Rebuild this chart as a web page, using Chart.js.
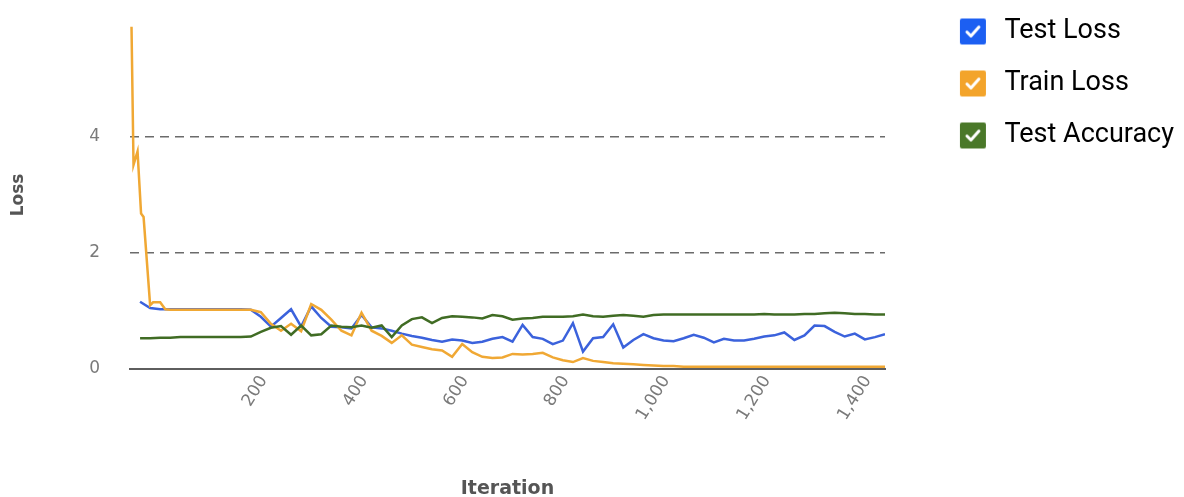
<!DOCTYPE html>
<html>
<head>
<meta charset="utf-8">
<script src="https://cdn.jsdelivr.net/npm/chart.js@4.4.0/dist/chart.umd.min.js"></script>
<style>
  html, body { margin: 0; padding: 0; background: #fff; }
  #wrap { width: 1184px; height: 497px; }
</style>
</head>
<body>
<div id="wrap"><canvas id="grafico"></canvas></div>
<script>
// Iterações em que o teste foi avaliado (a cada 20)
const testIter = [
  20, 40, 60, 80, 100, 120, 140, 160, 180, 200,
  220, 240, 260, 280, 300, 320, 340, 360, 380, 400,
  420, 440, 460, 480, 500, 520, 540, 560, 580, 600,
  620, 640, 660, 680, 700, 720, 740, 760, 780, 800,
  820, 840, 860, 880, 900, 920, 940, 960, 980, 1000,
  1020, 1040, 1060, 1080, 1100, 1120, 1140, 1160, 1180, 1200,
  1220, 1240, 1260, 1280, 1300, 1320, 1340, 1360, 1380, 1400,
  1420, 1440, 1460, 1480, 1500
];

const testLoss = [
  1.16, 1.05, 1.03, 1.03, 1.03, 1.03, 1.03, 1.03, 1.03, 1.03,
  1.03, 1.02, 0.90, 0.73, 0.88, 1.03, 0.73, 1.08, 0.88, 0.73,
  0.72, 0.70, 0.93, 0.72, 0.70, 0.66, 0.61, 0.57, 0.54, 0.50,
  0.47, 0.51, 0.49, 0.45, 0.47, 0.52, 0.55, 0.47, 0.76, 0.55,
  0.52, 0.43, 0.49, 0.79, 0.30, 0.53, 0.55, 0.77, 0.37, 0.50,
  0.60, 0.53, 0.49, 0.48, 0.53, 0.59, 0.54, 0.46, 0.52, 0.49,
  0.49, 0.52, 0.56, 0.58, 0.63, 0.50, 0.58, 0.75, 0.74, 0.64,
  0.56, 0.61, 0.51, 0.55, 0.60
];

const testAccuracy = [
  0.53, 0.53, 0.54, 0.54, 0.55, 0.55, 0.55, 0.55, 0.55, 0.55,
  0.55, 0.56, 0.64, 0.71, 0.74, 0.59, 0.75, 0.58, 0.60, 0.75,
  0.73, 0.72, 0.75, 0.71, 0.75, 0.55, 0.75, 0.86, 0.89, 0.79,
  0.88, 0.91, 0.90, 0.89, 0.87, 0.93, 0.91, 0.85, 0.87, 0.88,
  0.90, 0.90, 0.90, 0.91, 0.94, 0.91, 0.90, 0.92, 0.93, 0.92,
  0.90, 0.93, 0.94, 0.94, 0.94, 0.94, 0.94, 0.94, 0.94, 0.94,
  0.94, 0.94, 0.95, 0.94, 0.94, 0.94, 0.95, 0.95, 0.96, 0.97,
  0.96, 0.95, 0.95, 0.94, 0.94
];

// Treino: alguns pontos extras no início, depois as mesmas iterações do teste
const trainIter = [3, 7, 15, 22, 27, 40, 46, 60, 70].concat(testIter.slice(3));

const trainLoss = [
  5.90, 3.52, 3.75, 2.68, 2.62, 1.10, 1.15, 1.15, 1.03,
  1.02, 1.02, 1.02, 1.02, 1.02, 1.02, 1.02, 1.02, 1.02,
  0.98, 0.78, 0.66, 0.78, 0.65, 1.12, 1.02, 0.85,
  0.66, 0.58, 0.97, 0.66, 0.57, 0.45, 0.58, 0.42, 0.38, 0.34,
  0.32, 0.21, 0.43, 0.29, 0.21, 0.19, 0.20, 0.26, 0.25, 0.26,
  0.28, 0.20, 0.15, 0.12, 0.19, 0.14, 0.12, 0.10, 0.09, 0.08,
  0.07, 0.06, 0.05, 0.05, 0.04,
  0.04, 0.04, 0.04, 0.04, 0.04, 0.04, 0.04, 0.04, 0.04, 0.04,
  0.04, 0.04, 0.04, 0.04, 0.04, 0.04, 0.04, 0.04, 0.04, 0.04
];

const seriesNames = ["Test Loss", "Train Loss", "Test Accuracy"];
const lineColors = ["#3b62dc", "#f0a834", "#406c24"];
const boxColors = ["#1c5ff2", "#f3a42b", "#4a7829"];

const yTicks = [0, 2, 4];

// monta pares {x, y}
function pares(xs, ys) {
  return ys.map((v, i) => ({ x: xs[i], y: v }));
}

// caixinha marcada para a legenda
function caixaMarcada(cor) {
  const c = document.createElement("canvas");
  c.width = 28;
  c.height = 28;
  const g = c.getContext("2d");
  g.fillStyle = cor;
  g.beginPath();
  g.roundRect(1, 1, 26, 26, 2);
  g.fill();
  g.strokeStyle = "#fff";
  g.lineWidth = 3;
  g.lineCap = "round";
  g.lineJoin = "round";
  g.beginPath();
  g.moveTo(8, 14.5);
  g.lineTo(12, 18.5);
  g.lineTo(20, 9.5);
  g.stroke();
  return c;
}
const caixas = boxColors.map(caixaMarcada);

const dados = [pares(testIter, testLoss), pares(trainIter, trainLoss), pares(testIter, testAccuracy)];

new Chart(document.getElementById("grafico"), {
  type: "line",
  data: {
    datasets: dados.map((d, i) => ({
      label: seriesNames[i],
      data: d,
      borderColor: lineColors[i],
      backgroundColor: lineColors[i],
      borderWidth: 2.5,
      pointRadius: 0,
      tension: 0,
      order: 2 - i
    }))
  },
  options: {
    responsive: true,
    maintainAspectRatio: false,
    animation: false,
    layout: { padding: { top: -7, left: 0, right: 0, bottom: 0 } },
    plugins: {
      tooltip: { enabled: false },
      legend: {
        position: "right",
        align: "start",
        maxWidth: 320,
        labels: {
          usePointStyle: true,
          pointStyleWidth: 36,
          padding: 25,
          color: "#3a3a3a",
          font: { family: "Roboto", size: 27 },
          generateLabels: chart => chart.data.datasets.map((ds, i) => ({
            text: ds.label,
            pointStyle: caixas[i],
            fillStyle: boxColors[i],
            strokeStyle: "rgba(0,0,0,0)",
            lineWidth: 0,
            hidden: false,
            datasetIndex: i
          }))
        }
      }
    },
    scales: {
      x: {
        type: "linear",
        min: 0,
        max: 1500,
        grid: { display: false, drawTicks: false },
        border: { display: true, color: "#5e5e5e", width: 2 },
        ticks: {
          stepSize: 200,
          includeBounds: false,
          autoSkip: false,
          minRotation: 58,
          maxRotation: 58,
          padding: 3,
          labelOffset: 33,
          color: "#7a7a7a",
          font: { family: "DejaVu Sans", size: 17 },
          callback: v => v === 0 ? "" : v.toLocaleString("en-US")
        },
        title: {
          display: true,
          text: "Iteration",
          color: "#555",
          font: { family: "DejaVu Sans", size: 19, weight: "bold" },
          padding: { top: 0, bottom: -3 }
        },
        afterFit: s => {
          s.height = 128;
          s.paddingLeft = 0;
          s.paddingRight = 0;
        }
      },
      y: {
        min: 0,
        max: 6,
        grid: {
          drawTicks: false,
          lineWidth: 1.5,
          color: c => yTicks.includes(c.tick.value) && c.tick.value !== 0 ? "#6b6b6b" : "rgba(0,0,0,0)"
        },
        border: { display: false, dash: [9, 6] },
        ticks: {
          stepSize: 2,
          padding: 30,
          color: "#7a7a7a",
          font: { family: "DejaVu Sans", size: 17 },
          callback: v => yTicks.includes(v) ? v : ""
        },
        title: {
          display: true,
          text: "Loss",
          color: "#555",
          font: { family: "DejaVu Sans", size: 17, weight: "bold" },
          padding: { top: 8, bottom: 0 }
        },
        afterFit: s => {
          s.width = 130;
          s.paddingTop = 21;
          s.paddingBottom = 0;
        }
      },
      // eixo vazio só para afastar a legenda da área do gráfico
      yDireita: {
        position: "right",
        display: true,
        grid: { display: false, drawTicks: false },
        border: { display: false },
        ticks: { display: false },
        afterFit: s => {
          const leg = s.chart.legend ? s.chart.legend.width : 0;
          s.width = Math.max(0, s.chart.width - 885 - leg);
        }
      }
    }
  }
});
</script>
</body>
</html>
